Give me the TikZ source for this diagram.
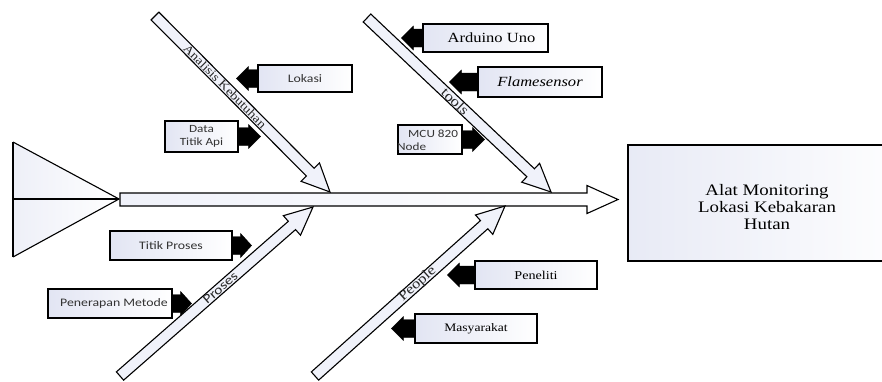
\documentclass[tikz,border=0pt]{standalone}
\usepackage{fontspec}
\setmainfont{Liberation Serif}
\newfontfamily\serifw[FakeStretch=1.18]{Liberation Serif}
\newfontfamily\sansw[FakeStretch=1.2]{Carlito}
\usetikzlibrary{calc}
\definecolor{bonefill}{RGB}{240,242,250}
\definecolor{boxl}{RGB}{226,229,243}
\newcommand{\blockarr}[6]{%
  \coordinate (#2-h) at ($(#2)!#5!(#1)$);
  \draw[#6] ($(#1)!#3!90:(#2)$) -- ($(#2-h)!#3!90:(#2)$) -- ($(#2-h)!#4!90:(#2)$) -- (#2) -- ($(#2-h)!#4!-90:(#2)$) -- ($(#2-h)!#3!-90:(#2)$) -- ($(#1)!#3!-90:(#2)$) -- cycle;}
\tikzset{
  bone/.style={draw=black, line width=1.1pt, fill=bonefill, line join=miter},
  blk/.style={draw=black, fill=black, line join=miter},
  cbox/.style={draw=black, line width=1.2pt, left color=boxl, right color=white, inner sep=1pt},
  sanst/.style={font=\sansw\fontsize{11.5}{12}\selectfont, text=black!80},
  seriftxt/.style={font=\serifw\fontsize{14}{15}\selectfont},
  bonelbl/.style={font=\serifw\fontsize{12}{13}\selectfont, inner sep=0pt, text=black!85},
}
\begin{document}
\begin{tikzpicture}[x=1pt,y=-1pt]
\useasboundingbox (0,0) rectangle (882,381);
\clip (0,0) rectangle (882,381);
% head triangle
\coordinate (ttop) at (13,142);
\coordinate (tbot) at (13,257);
\coordinate (tmid) at (13,199);
\coordinate (tapex) at (119,199);
\fill[left color=boxl!60, right color=white] (ttop) -- (tapex) -- (tbot) -- cycle;
\draw[line width=1.1pt] (ttop) -- (tapex) -- (tbot);
\draw[line width=2pt] (ttop) -- (tbot);
\draw[line width=1.1pt] (tmid) -- (tapex);
% main box
\node[draw=black, line width=1.5pt, left color=boxl!80, right color=white, minimum width=290, minimum height=116, anchor=north west] (main) at (627,144) {};
\node[font=\serifw\fontsize{16}{17}\selectfont, align=center] (mainT) at (767,207) {Alat Monitoring\\Lokasi Kebakaran\\Hutan};
% spine
\coordinate (sp0) at (120,199.5);
\coordinate (sp1) at (618,199.5);
\blockarr{sp0}{sp1}{6.5pt}{14pt}{31pt}{bone, left color=bonefill, right color=white}
% bones
\coordinate (b1s) at (155,16);  \coordinate (b1e) at (330,192);
\coordinate (b2s) at (367,18);  \coordinate (b2e) at (551,192);
\coordinate (b3s) at (120,376); \coordinate (b3e) at (313,207);
\coordinate (b4s) at (315,376); \coordinate (b4e) at (505,206);
\blockarr{b1s}{b1e}{5.5pt}{13pt}{28pt}{bone}
\blockarr{b2s}{b2e}{5.5pt}{13pt}{28pt}{bone}
\blockarr{b3s}{b3e}{5.5pt}{13pt}{28pt}{bone}
\blockarr{b4s}{b4e}{5.5pt}{13pt}{28pt}{bone}
\node[bonelbl, rotate=-45.2] (l1) at ($(b1s)!0.40!(b1e)$) {Analisis Kebutuhan};
\node[bonelbl, rotate=-43.4, font=\serifw\fontsize{14}{14}\selectfont] (l2) at ($(b2s)!0.48!(b2e)$) {tools};
\node[bonelbl, rotate=41.2, font=\sansw\fontsize{13}{13}\selectfont] (l3) at ($(b3s)!0.52!(b3e)$) {Proses};
\node[bonelbl, rotate=41.8, font=\serifw\fontsize{14}{14}\selectfont] (l4) at ($(b4s)!0.54!(b4e)$) {People};
% cause boxes
\node[cbox, minimum width=94, minimum height=27, sanst] (lok) at (305,78.5) {Lokasi};
\node[cbox, minimum width=73, minimum height=31, sanst, align=center, font=\sansw\fontsize{11}{13}\selectfont] (data) at (201.5,136.5) {Data\\Titik Api};
\node[cbox, minimum width=125, minimum height=28, seriftxt] (ard) at (485.5,38) {\hspace*{12pt}Arduino Uno};
\node[cbox, minimum width=124, minimum height=30, seriftxt, font=\serifw\itshape\fontsize{14}{15}\selectfont] (flame) at (540,82) {Flamesensor};
\node[cbox, minimum width=64, minimum height=29] (mcu) at (430,139.5) {};
\node[sanst, font=\sansw\fontsize{11}{13}\selectfont, align=left, anchor=west, inner sep=0pt] (mcuT) at (397,140) {\hspace*{11pt}MCU 820\\Node};
\node[cbox, minimum width=122, minimum height=29, sanst] (tp) at (171,245.5) {Titik Proses};
\node[cbox, minimum width=124, minimum height=29, sanst] (pm) at (110,303.5) {\hspace*{8pt}Penerapan Metode};
\node[cbox, minimum width=122, minimum height=28, seriftxt, font=\serifw\fontsize{12}{13}\selectfont] (pn) at (536,275) {Peneliti};
\node[cbox, minimum width=122, minimum height=29, seriftxt, font=\serifw\fontsize{11.5}{13}\selectfont] (ms) at (476,328.5) {Masyarakat};
% black arrows
\coordinate (lokT) at ($(lok.west)+(-21,0)$);
\blockarr{lok.west}{lokT}{9pt}{12pt}{12pt}{blk}
\coordinate (dataT) at ($(data.east)+(22,0)$);
\blockarr{data.east}{dataT}{9pt}{12pt}{12pt}{blk}
\coordinate (ardT) at ($(ard.west)+(-21,0)$);
\blockarr{ard.west}{ardT}{9pt}{12pt}{12pt}{blk}
\coordinate (flameT) at ($(flame.west)+(-28,0)$);
\blockarr{flame.west}{flameT}{9pt}{12pt}{12pt}{blk}
\coordinate (mcuT2) at ($(mcu.east)+(22,0)$);
\blockarr{mcu.east}{mcuT2}{9pt}{12pt}{12pt}{blk}
\coordinate (tpT) at ($(tp.east)+(19,0)$);
\blockarr{tp.east}{tpT}{9pt}{12pt}{11pt}{blk}
\coordinate (pmT) at ($(pm.east)+(19,0)$);
\blockarr{pm.east}{pmT}{9pt}{12pt}{11pt}{blk}
\coordinate (pnT) at ($(pn.west)+(-27,0)$);
\blockarr{pn.west}{pnT}{9pt}{12pt}{12pt}{blk}
\coordinate (msT) at ($(ms.west)+(-23,0)$);
\blockarr{ms.west}{msT}{9pt}{12pt}{12pt}{blk}
\end{tikzpicture}
\end{document}
